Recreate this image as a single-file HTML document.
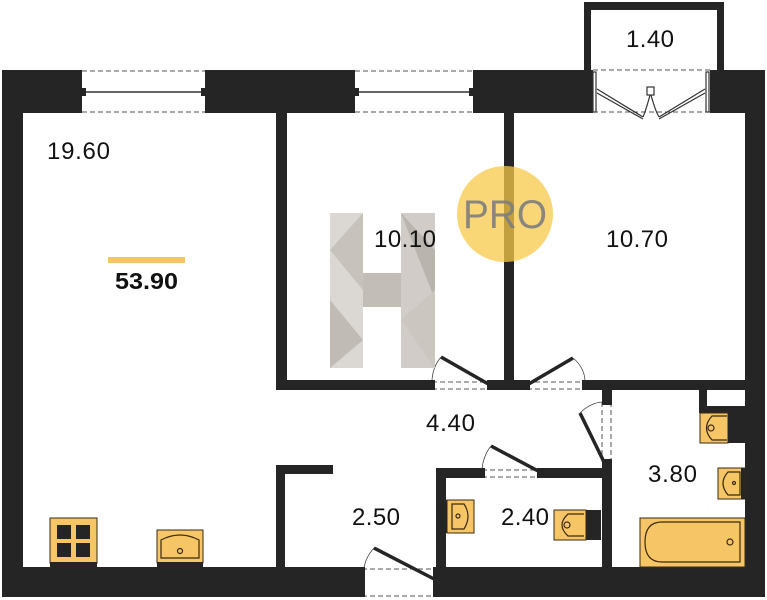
<!DOCTYPE html>
<html><head><meta charset="utf-8"><style>
html,body{margin:0;padding:0;background:#fff;width:767px;height:600px;overflow:hidden}
svg{display:block}
text{font-family:"Liberation Sans",sans-serif}
</style></head><body>
<svg width="767" height="600" viewBox="0 0 767 600" xmlns="http://www.w3.org/2000/svg">
<g fill="#252525">
<rect x="2" y="70" width="80" height="43"/>
<rect x="205" y="70" width="150" height="43"/>
<rect x="473" y="70" width="120" height="43"/>
<rect x="710" y="70" width="55" height="43"/>
<rect x="2" y="70" width="21" height="527"/>
<rect x="745" y="70" width="20" height="527"/>
<rect x="2" y="567" width="360" height="30"/>
<rect x="436" y="567" width="329" height="30"/>
<rect x="584" y="2" width="140" height="8"/>
<rect x="584" y="2" width="7" height="70"/>
<rect x="717" y="2" width="7" height="70"/>
<rect x="276" y="113" width="11" height="277"/>
<rect x="504" y="113" width="10" height="277"/>
<rect x="276" y="380" width="156" height="10"/>
<rect x="490" y="380" width="37" height="10"/>
<rect x="585" y="380" width="160" height="10"/>
<rect x="602" y="390" width="10" height="12"/>
<rect x="602" y="462" width="10" height="105"/>
<rect x="699" y="390" width="8" height="23"/>
<rect x="699" y="406" width="46" height="7"/>
<rect x="436" y="468" width="46" height="10"/>
<rect x="540" y="468" width="62" height="10"/>
<rect x="436" y="468" width="10" height="99"/>
<rect x="276" y="465" width="57" height="9"/>
<rect x="276" y="465" width="9" height="102"/>
</g>
<g stroke="#555" stroke-width="1" stroke-dasharray="5,3" fill="none">
<line x1="82" y1="71" x2="205" y2="71"/><line x1="82" y1="112" x2="205" y2="112"/>
<line x1="355" y1="71" x2="473" y2="71"/><line x1="355" y1="112" x2="473" y2="112"/>
<line x1="593" y1="70" x2="710" y2="70"/><line x1="593" y1="112" x2="710" y2="112"/>
<line x1="432" y1="382" x2="490" y2="382"/><line x1="432" y1="389" x2="490" y2="389"/>
<line x1="527" y1="382" x2="585" y2="382"/><line x1="527" y1="389" x2="585" y2="389"/>
<line x1="482" y1="470" x2="540" y2="470"/><line x1="482" y1="477" x2="540" y2="477"/>
<line x1="602" y1="402" x2="602" y2="462"/><line x1="611" y1="402" x2="611" y2="462"/>
<line x1="362" y1="569" x2="436" y2="569"/><line x1="362" y1="596" x2="436" y2="596"/>
</g>
<g stroke="#333" stroke-width="1.5">
<line x1="84" y1="92" x2="203" y2="92"/><line x1="357" y1="92" x2="471" y2="92"/>
</g>
<g fill="#252525">
<rect x="82" y="88" width="4" height="8"/><rect x="201" y="88" width="4" height="8"/>
<rect x="355" y="88" width="4" height="8"/><rect x="469" y="88" width="4" height="8"/>
</g>
<g stroke="#333" fill="none" stroke-width="1.2">
<rect x="593" y="72" width="3" height="40"/><rect x="706" y="72" width="3" height="40"/>
<line x1="597" y1="89" x2="643" y2="117"/><line x1="597" y1="93" x2="643" y2="119"/>
<line x1="705" y1="89" x2="659" y2="117"/><line x1="705" y1="93" x2="659" y2="119"/>
<rect x="647" y="87" width="7" height="8"/>
<path d="M650 95 Q646 110 643 117 M651 95 Q655 110 659 117"/>
</g>
<g stroke="#252525" stroke-width="3.5">
<line x1="490" y1="385" x2="441" y2="357"/>
<line x1="527" y1="385" x2="573" y2="358"/>
<line x1="540" y1="472" x2="491" y2="446"/>
<line x1="604" y1="462" x2="580" y2="413"/>
<line x1="436" y1="580" x2="374" y2="548"/>
</g>
<g stroke="#444" fill="none" stroke-width="0.8">
<path d="M441 357 Q432 368 432 382"/><path d="M573 358 Q585 368 585 382"/>
<path d="M491 446 Q483 456 482 470"/><path d="M580 413 Q590 403 602 402"/>
<path d="M374 548 Q365 558 364 569"/>
</g>
<g fill="#252525">
<rect x="430" y="380" width="5" height="10"/><rect x="487" y="380" width="5" height="10"/>
<rect x="525" y="380" width="5" height="10"/><rect x="582" y="380" width="5" height="10"/>
<rect x="480" y="468" width="5" height="10"/><rect x="537" y="468" width="5" height="10"/>
<rect x="602" y="400" width="10" height="5"/><rect x="602" y="459" width="10" height="5"/>
<rect x="360" y="567" width="5" height="30"/><rect x="433" y="567" width="5" height="30"/>
</g>
<g opacity="0.9">
<rect x="330" y="213" width="33" height="155" fill="#d8d3cf"/>
<rect x="401" y="213" width="34" height="155" fill="#cdc7c2"/>
<rect x="363" y="273" width="38" height="34" fill="#bdb6b0"/>
<polygon points="330,250 363,213 363,290" fill="#c3bcb6"/>
<polygon points="401,213 435,250 435,300" fill="#b3aca6"/>
<polygon points="330,300 363,340 330,368" fill="#bbb4ae"/>
<polygon points="401,320 435,290 435,368" fill="#c6c0ba"/>
</g>
<circle cx="505" cy="214" r="48" fill="#f7c948" opacity="0.75"/>
<text x="463" y="228" font-size="40" fill="#7e7e7e" textLength="84" lengthAdjust="spacingAndGlyphs" opacity="0.9">PRO</text>
<g stroke="#3a2a10" stroke-width="1">
<rect x="50" y="518" width="47" height="45" fill="#f6c566"/>
<rect x="157" y="530" width="46" height="33" fill="#f6c566"/>
<rect x="447" y="500" width="27" height="33" fill="#f6c566"/>
<rect x="554" y="510" width="32" height="30" fill="#f6c566"/>
<rect x="700" y="413" width="28" height="30" fill="#f6c566"/>
<rect x="718" y="468" width="27" height="31" fill="#f6c566"/>
<rect x="640" y="518" width="105" height="49" fill="#f6c566"/>
</g>
<g fill="#252525">
<rect x="57" y="525" width="14" height="14"/><rect x="76" y="525" width="14" height="14"/>
<rect x="57" y="543" width="14" height="14"/><rect x="76" y="543" width="14" height="14"/>
<rect x="50" y="562" width="47" height="5"/><rect x="157" y="562" width="46" height="5"/>
<rect x="586" y="510" width="15" height="30"/>
<rect x="728" y="413" width="17" height="30"/>
<rect x="442" y="500" width="5" height="33"/>
<rect x="741" y="468" width="4" height="31"/>
</g>
<g stroke="#3a2a10" stroke-width="1.2" fill="none">
<path d="M161 558 V540 Q180 530 199 540 V558 Z"/><circle cx="180" cy="551" r="2.5"/>
<path d="M452 504 H464 Q472 516 464 529 H452 Z"/><circle cx="458" cy="516" r="2"/>
<path d="M584 514 H568 Q556 525 568 536 H584"/><circle cx="567" cy="525" r="3"/>
<path d="M727 416 H712 Q701 428 712 440 H727"/><circle cx="711" cy="428" r="3"/>
<path d="M740 472 H728 Q718 483 728 495 H740 Z"/><circle cx="734" cy="483" r="1.5"/>
<path d="M740 522 H662 Q645 522 645 542 Q645 562 662 562 H740 Z"/><circle cx="730" cy="542" r="3"/>
</g>
<g font-size="24" fill="#111" lengthAdjust="spacingAndGlyphs">
<text x="47" y="159" textLength="63">19.60</text>
<text x="374" y="247" textLength="62">10.10</text>
<text x="606" y="247" textLength="62">10.70</text>
<text x="626" y="47" textLength="48">1.40</text>
<text x="426" y="431" textLength="49">4.40</text>
<text x="352" y="525" textLength="48">2.50</text>
<text x="501" y="525" textLength="48">2.40</text>
<text x="648" y="482" textLength="49">3.80</text>
</g>
<rect x="108" y="257" width="77" height="6" fill="#f6c566"/>
<text x="115" y="289" font-size="23" font-weight="bold" fill="#111" textLength="63" lengthAdjust="spacingAndGlyphs">53.90</text>
</svg>
</body></html>
